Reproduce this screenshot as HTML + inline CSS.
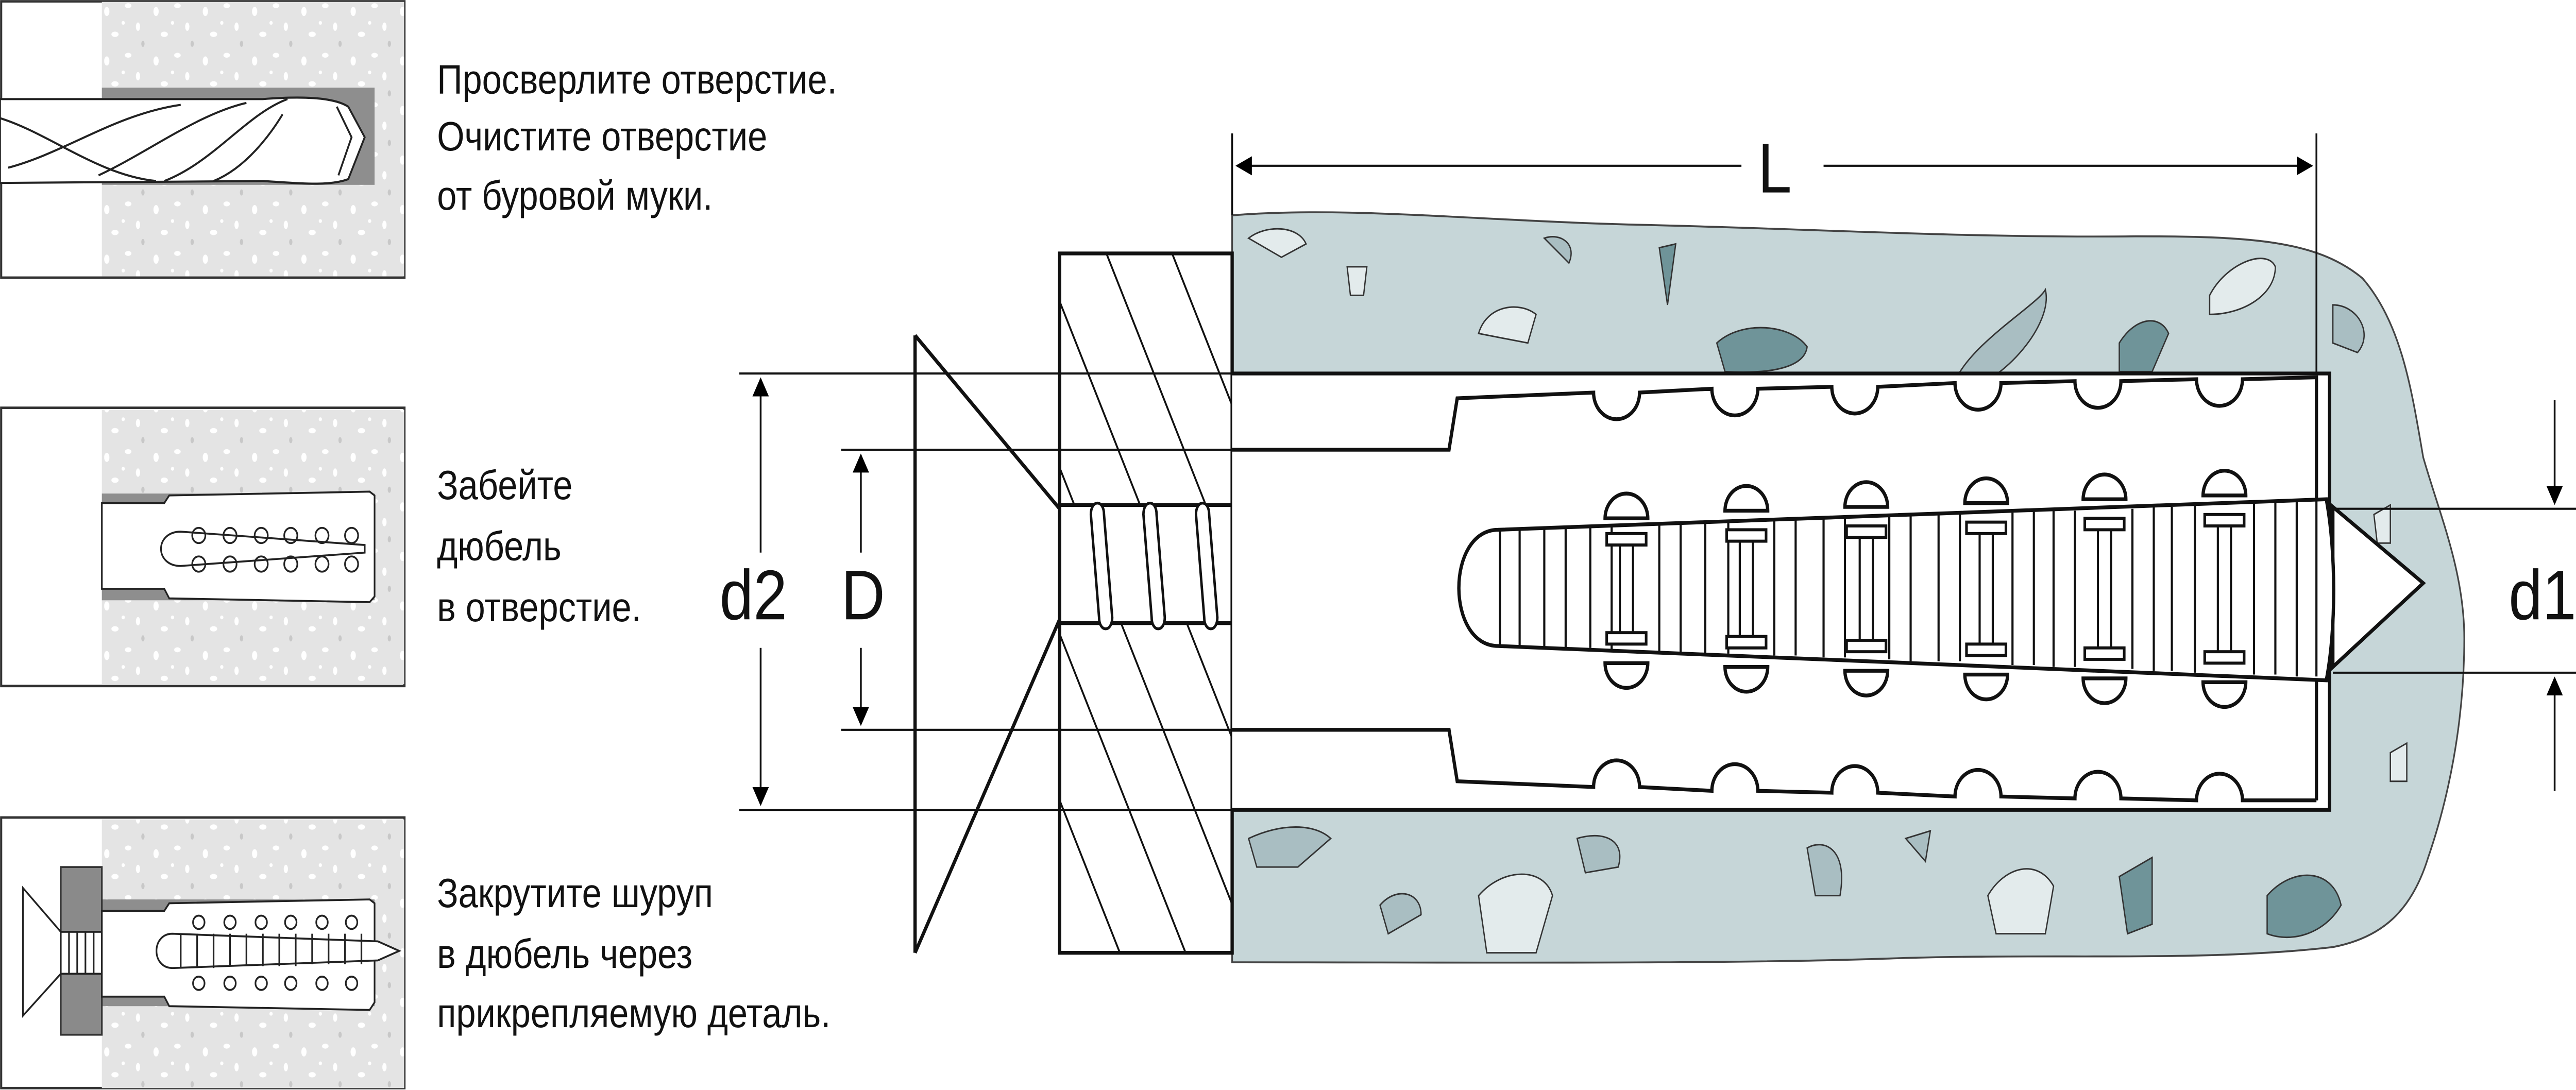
<!DOCTYPE html>
<html><head><meta charset="utf-8"><style>
html,body{margin:0;padding:0;background:#fff;overflow:hidden;width:100%;height:100%;}
svg{display:block;position:absolute;left:0;top:0;width:100vw;height:100vh;}
text{font-family:"Liberation Sans","DejaVu Sans",sans-serif;fill:#111;}
</style></head><body>
<svg viewBox="0 0 1568 572" preserveAspectRatio="none" xmlns="http://www.w3.org/2000/svg">
<defs>
<marker id="ar" markerWidth="10" markerHeight="10" refX="9" refY="5" orient="auto" markerUnits="userSpaceOnUse"><path d="M0,0 L10,5 L0,10 Z" fill="#000"/></marker>
<pattern id="speck" width="30" height="26" patternUnits="userSpaceOnUse">
<rect width="30" height="26" fill="#e4e4e4"/>
<ellipse cx="5" cy="6" rx="1.6" ry="2.4" fill="#fff"/><ellipse cx="18" cy="3" rx="2" ry="1.3" fill="#fff"/>
<ellipse cx="24" cy="14" rx="1.3" ry="2.2" fill="#fff"/><ellipse cx="10" cy="18" rx="2.2" ry="1.4" fill="#fff"/>
<ellipse cx="27" cy="23" rx="1" ry="1.6" fill="#c8c8c8"/><ellipse cx="15" cy="12" rx="1" ry="1" fill="#fff"/>
</pattern>
<clipPath id="plate"><rect x="645" y="133" width="105" height="367"/></clipPath>
</defs>

<g stroke="#333" stroke-width="1.3">
<rect x="0.7" y="0.7" width="245.5" height="145" fill="#fff"/>
<rect x="62" y="1" width="184" height="144" fill="url(#speck)" stroke="none"/>
<rect x="62" y="46" width="166" height="51" fill="#8e8e8e" stroke="none"/>
<rect x="0.7" y="214" width="245.5" height="146" fill="#fff"/>
<rect x="62" y="215" width="184" height="144" fill="url(#speck)" stroke="none"/>
<rect x="62" y="259" width="166" height="56" fill="#8e8e8e" stroke="none"/>
<rect x="0.7" y="429" width="245.5" height="142" fill="#fff"/>
<rect x="62" y="430" width="184" height="141" fill="url(#speck)" stroke="none"/>
<rect x="62" y="472" width="166" height="56" fill="#8e8e8e" stroke="none"/>
</g>
<g stroke="#222" stroke-width="1.1" fill="#fff">
<path d="M0,52 L160,52 C190,50 205,52 212,56 L222,72 L212,94 C200,98 180,96 160,95 L0,96 Z"/>
<path d="M0,62 C30,70 60,92 95,95 M5,88 C40,80 70,60 110,55 M60,92 C90,80 120,60 150,54 M100,95 C130,85 150,60 175,52 M130,95 C150,88 165,70 172,60" fill="none"/>
<path d="M205,56 L214,72 L206,92" fill="none"/>
</g>
<g stroke="#222" stroke-width="1" fill="#fff">
<path d="M62,264 L100,264 L103,260 L225,258 L228,260 L228,313 L225,316 L103,314 L100,309 L62,309 Z"/>
<path d="M110,279 C94,279 94,297 110,297 L222,290 L222,286 Z" fill="none"/>
<g fill="none"><circle cx="121" cy="281" r="4"/><circle cx="140" cy="281" r="4"/><circle cx="159" cy="281" r="4"/><circle cx="177" cy="281" r="4"/><circle cx="196" cy="281" r="4"/><circle cx="214" cy="281" r="4"/>
<circle cx="121" cy="296" r="4"/><circle cx="140" cy="296" r="4"/><circle cx="159" cy="296" r="4"/><circle cx="177" cy="296" r="4"/><circle cx="196" cy="296" r="4"/><circle cx="214" cy="296" r="4"/></g>
</g>
<rect x="37" y="455" width="25" height="88" fill="#8a8a8a" stroke="#333" stroke-width="1"/>
<g stroke="#222" stroke-width="1" fill="#fff">
<path d="M14,466 L37,489 L37,511 L14,533 Z"/>
<rect x="37" y="489" width="25" height="22"/>
<path d="M62,478 L100,478 L103,474 L225,472 L228,474 L228,526 L225,530 L103,528 L100,523 L62,523 Z"/>
<path d="M105,490 C92,490 92,508 105,508 L230,504 L243,499 L230,494 Z"/>
<g fill="none"><circle cx="121" cy="484" r="3.5"/><circle cx="140" cy="484" r="3.5"/><circle cx="159" cy="484" r="3.5"/><circle cx="177" cy="484" r="3.5"/><circle cx="196" cy="484" r="3.5"/><circle cx="214" cy="484" r="3.5"/>
<circle cx="121" cy="516" r="3.5"/><circle cx="140" cy="516" r="3.5"/><circle cx="159" cy="516" r="3.5"/><circle cx="177" cy="516" r="3.5"/><circle cx="196" cy="516" r="3.5"/><circle cx="214" cy="516" r="3.5"/>
<path d="M110,490 V508 M120,490 V508 M130,490 V508 M140,490 V507 M150,490 V507 M160,490 V507 M170,490 V507 M180,490 V507 M190,490 V506 M200,490 V506 M210,490 V506 M220,490 V506 M42,489 V511 M47,489 V511 M52,489 V511 M57,489 V511"/></g>
</g>

<g font-size="21.5">
<text x="266" y="49">Просверлите отверстие.</text>
<text x="266" y="79">Очистите отверстие</text>
<text x="266" y="110">от буровой муки.</text>
<text x="266" y="262">Забейте</text>
<text x="266" y="294">дюбель</text>
<text x="266" y="326">в отверстие.</text>
<text x="266" y="476">Закрутите шуруп</text>
<text x="266" y="508">в дюбель через</text>
<text x="266" y="539">прикрепляемую деталь.</text>
</g>

<path d="M750,113 C820,108 900,116 1000,118 C1100,120 1200,125 1300,124 C1370,124 1410,126 1438,146 C1462,170 1468,205 1475,240 C1485,270 1500,300 1500,335 C1500,380 1490,420 1478,450 C1468,478 1450,492 1420,497 C1340,505 1250,500 1150,503 C1050,506 900,505 750,505 Z" fill="#c6d6d8" stroke="#444" stroke-width="1"/>
<g stroke="#333" stroke-width="0.8">
<path d="M1045,180 C1060,168 1090,170 1100,182 C1098,195 1070,196 1050,195 Z" fill="#6f9499"/>
<path d="M1190,200 C1200,180 1240,160 1245,152 C1250,170 1220,200 1195,205 Z" fill="#a9bec2"/>
<path d="M1290,180 C1300,166 1315,165 1320,175 L1310,195 L1290,195 Z" fill="#6f9499"/>
<path d="M1345,155 C1355,138 1380,130 1385,140 C1385,155 1365,165 1345,165 Z" fill="#e3ebec"/>
<path d="M900,175 C905,160 925,158 935,165 L930,180 Z" fill="#e3ebec"/>
<path d="M1010,130 L1020,128 L1015,160 Z" fill="#6f9499"/>
<path d="M760,125 C770,118 790,118 795,128 L780,135 Z" fill="#e3ebec"/>
<path d="M820,140 L832,140 L830,155 L822,155 Z" fill="#e3ebec"/>
<path d="M940,125 C950,122 960,128 955,138 Z" fill="#a9bec2"/>
<path d="M1100,445 C1110,440 1125,445 1120,470 L1105,470 Z" fill="#a9bec2"/>
<path d="M1210,470 C1220,455 1240,450 1250,465 L1245,490 L1215,490 Z" fill="#e3ebec"/>
<path d="M1290,460 L1310,450 L1310,485 L1295,490 Z" fill="#6f9499"/>
<path d="M1380,470 C1395,455 1420,455 1425,475 C1415,490 1395,495 1380,490 Z" fill="#6f9499"/>
<path d="M900,470 C915,455 940,455 945,470 L935,500 L905,500 Z" fill="#e3ebec"/>
<path d="M960,440 C975,436 990,440 985,455 L965,458 Z" fill="#a9bec2"/>
<path d="M840,475 C850,465 865,468 865,480 L845,490 Z" fill="#a9bec2"/>
<path d="M1160,440 L1175,436 L1172,452 Z" fill="#a9bec2"/>
<path d="M760,440 C780,432 800,432 810,440 L790,455 L765,455 Z" fill="#a9bec2"/>
<path d="M1420,160 C1435,160 1445,175 1435,185 L1420,180 Z" fill="#a9bec2"/>
<path d="M1445,270 L1455,265 L1455,285 L1447,285 Z" fill="#e3ebec"/>
<path d="M1455,395 L1465,390 L1465,410 L1455,410 Z" fill="#e3ebec"/>
</g>

<rect x="645" y="133" width="105" height="367" fill="#fff"/>
<g clip-path="url(#plate)" stroke="#111" stroke-width="1.1">
<path d="M560,60 L780,540 M600,60 L820,540 M640,60 L860,540 M680,60 L900,540 M520,60 L740,540 M480,60 L700,540 M440,60 L660,540 M400,60 L620,540 M360,60 L580,540"/>
<rect x="645" y="265" width="105" height="62" fill="#fff" stroke="none"/>
</g>
<rect x="645" y="133" width="105" height="367" fill="none" stroke="#111" stroke-width="2"/>

<g stroke="#111" stroke-width="1.1" fill="none">
<path d="M450,196 H750 M512,236 H750 M512,383 H750 M450,425 H750"/>
<path d="M750,70 V113 M1410,70 V240"/>
<path d="M1420,267 H1568 M1420,353 H1568"/>
<path d="M463,290 V199" marker-end="url(#ar)"/>
<path d="M463,340 V422" marker-end="url(#ar)"/>
<path d="M524,290 V239" marker-end="url(#ar)"/>
<path d="M524,340 V380" marker-end="url(#ar)"/>
<path d="M1060,87 H753" marker-end="url(#ar)"/>
<path d="M1110,87 H1407" marker-end="url(#ar)"/>
<path d="M1555,210 V264" marker-end="url(#ar)"/>
<path d="M1555,415 V356" marker-end="url(#ar)"/>
</g>
<text x="438" y="325" font-size="37">d2</text>
<text x="512" y="325" font-size="37">D</text>
<text x="1070" y="101" font-size="37">L</text>
<text x="1527" y="325" font-size="37">d1</text>

<g stroke="#111" stroke-width="2" fill="none">
<path d="M557,176 V500"/>
<path d="M557,176 L645,267"/>
<path d="M645,325 L557,500"/>
<path d="M645,265 H750 M645,327 H750"/>
</g>
<g stroke="#111" stroke-width="1.5" fill="#fff">
<path d="M664,270 C664,262 672,262 672,270 L677,324 C677,332 669,332 669,324 Z"/>
<path d="M696,270 C696,262 704,262 704,270 L709,324 C709,332 701,332 701,324 Z"/>
<path d="M728,270 C728,262 736,262 736,270 L741,324 C741,332 733,332 733,324 Z"/>
</g>

<path d="M750,196 H1418 V425 H750 Z" fill="#fff" stroke="none"/>
<g stroke="#111" stroke-width="2" fill="none">
<path d="M750,196 H1418 V425 H750"/>
<path d="M750,236 H882 L887,209 L970,206 A14,14 0 0 0 998,206 L1042,204 A14,14 0 0 0 1070,204 L1115,203 A14,14 0 0 0 1143,203 L1190,201 A14,14 0 0 0 1218,201 L1263,200 A14,14 0 0 0 1291,200 L1337,199 A14,14 0 0 0 1365,199 L1410,198 V420"/>
<path d="M750,383 H882 L887,410 L970,413 A14,14 0 0 1 998,413 L1042,415 A14,14 0 0 1 1070,415 L1115,416 A14,14 0 0 1 1143,416 L1190,418 A14,14 0 0 1 1218,418 L1263,419 A14,14 0 0 1 1291,419 L1337,420 A14,14 0 0 1 1365,420 L1410,420"/>
</g>
<g stroke="#111" stroke-width="2" fill="#fff">
<path d="M977,272 A13,13 0 0 1 1003,272 Z"/>
<path d="M1050,268 A13,13 0 0 1 1076,268 Z"/>
<path d="M1123,266 A13,13 0 0 1 1149,266 Z"/>
<path d="M1196,264 A13,13 0 0 1 1222,264 Z"/>
<path d="M1268,262 A13,13 0 0 1 1294,262 Z"/>
<path d="M1341,260 A13,13 0 0 1 1367,260 Z"/>
<path d="M977,348 A13,13 0 0 0 1003,348 Z"/>
<path d="M1050,350 A13,13 0 0 0 1076,350 Z"/>
<path d="M1123,352 A13,13 0 0 0 1149,352 Z"/>
<path d="M1196,354 A13,13 0 0 0 1222,354 Z"/>
<path d="M1268,356 A13,13 0 0 0 1294,356 Z"/>
<path d="M1341,358 A13,13 0 0 0 1367,358 Z"/>
</g>
<g stroke="#111" stroke-width="2" fill="#fff">
<path d="M1420,266 L1475,306 L1420,350 Z"/>
<path d="M912,278 L1416,262 C1422,290 1422,330 1416,357 L912,339 C880,339 880,278 912,278 Z"/>
</g>
<g stroke="#111" stroke-width="1.3" fill="none">
<path d="M913,278 V339 M925,278 V339 M940,277 V340 M953,277 V340 M968,276 V340 M981,276 V341 M1010,275 V342 M1023,275 V342 M1038,274 V343 M1052,274 V343 M1080,273 V344 M1093,273 V344 M1110,272 V345 M1123,272 V345 M1150,271 V346 M1163,271 V347 M1180,270 V347 M1193,270 V347 M1225,269 V349 M1238,268 V349 M1250,268 V350 M1263,268 V350 M1298,267 V351 M1311,266 V352 M1322,266 V352 M1336,265 V353 M1372,264 V354 M1385,264 V354 M1398,263 V355 M1410,263 V355"/>
</g>
<g stroke="#111" stroke-width="1.6" fill="#fff">
<rect x="978" y="280" width="24" height="6"/><rect x="1051" y="278" width="24" height="6"/><rect x="1124" y="276" width="24" height="6"/><rect x="1197" y="274" width="24" height="6"/><rect x="1269" y="272" width="24" height="6"/><rect x="1342" y="270" width="24" height="6"/>
<rect x="978" y="332" width="24" height="6"/><rect x="1051" y="334" width="24" height="6"/><rect x="1124" y="336" width="24" height="6"/><rect x="1197" y="338" width="24" height="6"/><rect x="1269" y="340" width="24" height="6"/><rect x="1342" y="342" width="24" height="6"/>
</g>
<g stroke="#111" stroke-width="1.3">
<path d="M986,286 V332 M994,286 V332 M1059,284 V334 M1067,284 V334 M1132,282 V336 M1140,282 V336 M1205,280 V338 M1213,280 V338 M1277,278 V340 M1285,278 V340 M1350,276 V342 M1358,276 V342"/>
</g>
</svg>
</body></html>
